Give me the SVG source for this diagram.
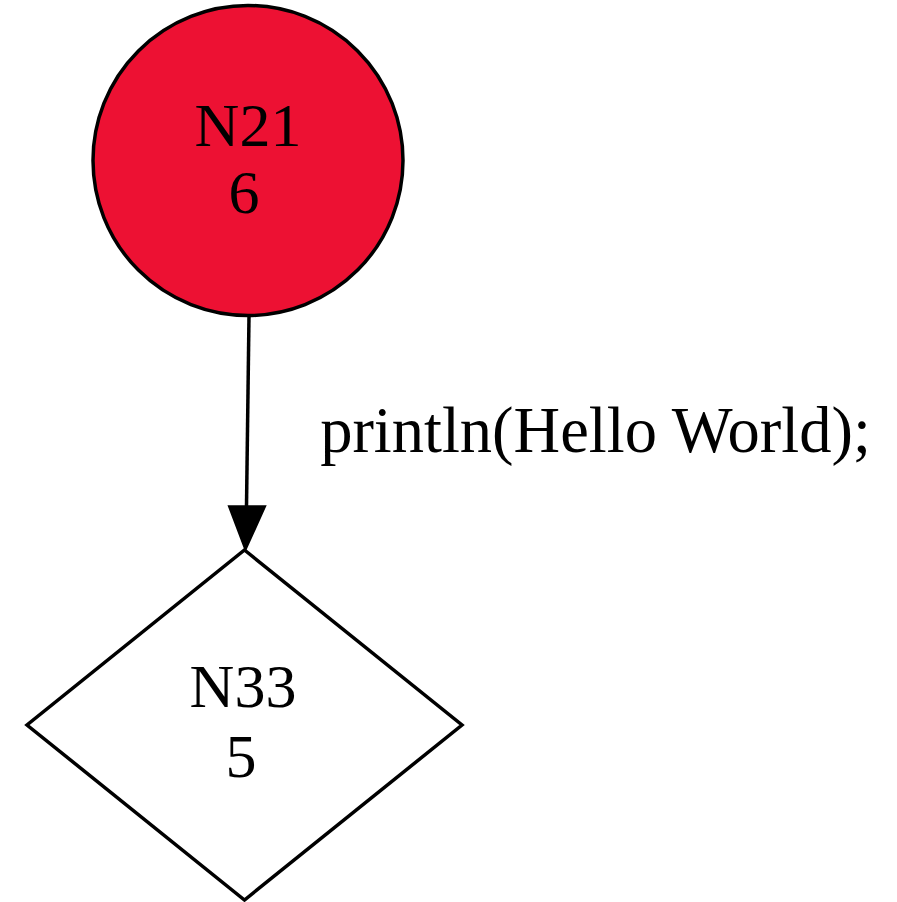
<svg xmlns="http://www.w3.org/2000/svg" width="897" height="902" viewBox="0 0 897 902">
  <style>
    .shape { stroke: #000; stroke-width: 3.5; }
    .lbl { font-family: "Liberation Serif", "Times New Roman", serif; font-size: 62px; fill: #000; text-anchor: middle; }
    .edge-lbl { font-size: 64.5px; }
    .edge { stroke: #000; stroke-width: 3.5; fill: none; }
    .head { fill: #000; stroke: #000; stroke-width: 3.5; stroke-linejoin: miter; }
  </style>
  <rect width="897" height="902" fill="#fff"/>

  <g id="edges">
    <path class="edge" d="M249,316 L246.5,506"/>
    <polygon class="head" points="230,507 264,507 245.5,548"/>
    <text class="lbl edge-lbl" x="595.5" y="452">println(Hello World);</text>
  </g>

  <g id="N21">
    <circle class="shape" cx="248" cy="160.5" r="155" fill="#ED1133"/>
    <text class="lbl" x="248" y="146">N21</text>
    <text class="lbl" x="244" y="213">6</text>
  </g>

  <g id="N33">
    <polygon class="shape" points="244.5,550 462,725 244.5,900 27,725" fill="none"/>
    <text class="lbl" x="243" y="707">N33</text>
    <text class="lbl" x="241" y="777">5</text>
  </g>
</svg>
